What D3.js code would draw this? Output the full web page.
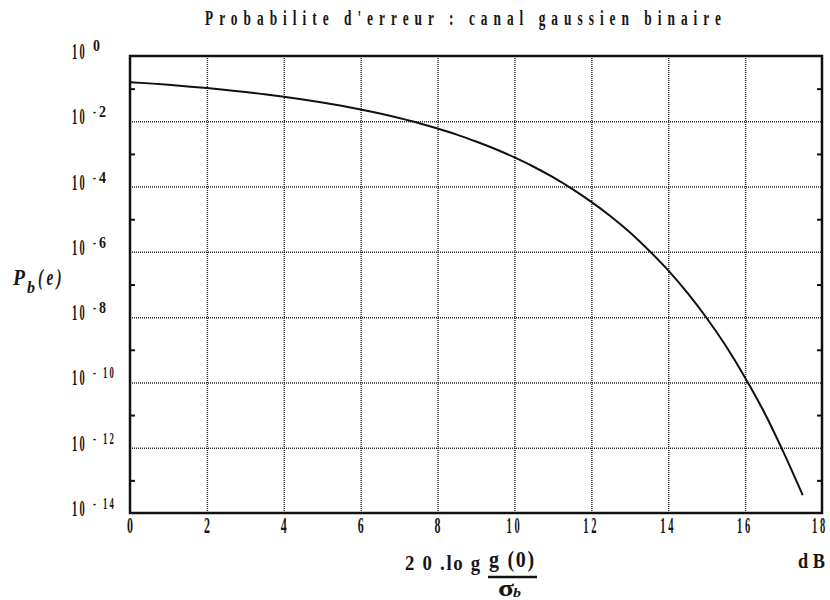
<!DOCTYPE html>
<html><head><meta charset="utf-8">
<script src="https://cdn.jsdelivr.net/npm/d3@7/dist/d3.min.js"></script>
<style>body{margin:0;background:#fff}svg{display:block}</style>
</head><body>
<svg id="chart" width="830" height="600"></svg>
<script>
// ---- data ----
const snrDb = [0,0.5,1,1.5,2,2.5,3,3.5,4,4.5,5,5.5,6,6.5,7,7.5,8,8.5,9,9.5,10,10.5,11,11.5,12,12.5,13,13.5,14,14.5,15,15.5,16,16.5,17,17.5];
const errorProb = [0.158,0.145,0.131,0.117,0.104,0.091,0.079,0.067,0.0565,0.0466,0.0377,0.0298,0.023,0.0173,0.0126,0.0089,0.0060,0.0039,0.0024,0.00142,7.8e-4,4.05e-4,1.94e-4,8.5e-5,3.4e-5,1.24e-5,4.0e-6,1.1e-6,2.7e-7,5.5e-8,9.4e-9,1.3e-9,1.4e-10,1.2e-11,7.2e-13,3.5e-14];
const xTicks = [0,2,4,6,8,10,12,14,16,18];
const yMajorExp = [0,-2,-4,-6,-8,-10,-12,-14];
const yMinorExp = [-1,-3,-5,-7,-9,-11,-13];
const titleText = "Probabilite d'erreur : canal gaussien binaire";

const svg = d3.select("#chart");
const L = 130, R = 822, T = 56, B = 513;
const x = d3.scaleLinear().domain([0, 18]).range([L, R]);
const y = d3.scaleLog().domain([1e-14, 1]).range([B, T]);
const FONT = "'Liberation Serif','Times New Roman',serif";

// text fitted to a target width by horizontal scaling
function fitText(str, px, baseline, width, size, opt = {}) {
  const g = svg.append("g");
  const t = g.append("text")
    .attr("x", 0).attr("y", 0)
    .attr("font-family", FONT)
    .attr("font-size", size)
    .attr("font-weight", opt.weight || "bold")
    .attr("font-style", opt.style || "normal")
    .attr("letter-spacing", opt.spacing || 0)
    .attr("fill", "#161616")
    .text(str);
  const w = t.node().getComputedTextLength();
  const sx = width / w;
  let left = px;
  if (opt.anchor === "middle") left = px - width / 2;
  else if (opt.anchor === "end") left = px - width;
  g.attr("transform", `translate(${left},${baseline}) scale(${sx},1)`);
  return g;
}

// grid (dotted) through axes
const gridX = svg.append("g").attr("transform", `translate(0,${B})`)
  .call(d3.axisBottom(x).tickValues(xTicks.slice(1, -1)).tickSize(-(B - T)).tickFormat(""));
gridX.select(".domain").remove();
gridX.selectAll("line").attr("stroke", "#2a2a2a").attr("stroke-width", 1.5).attr("stroke-dasharray", "1,1");

const gridY = svg.append("g").attr("transform", `translate(${L},0)`)
  .call(d3.axisLeft(y).tickValues(yMajorExp.slice(1, -1).map(e => Math.pow(10, e))).tickSize(-(R - L)).tickFormat(""));
gridY.select(".domain").remove();
gridY.selectAll("line").attr("stroke", "#2a2a2a").attr("stroke-width", 1.5).attr("stroke-dasharray", "1,1");

// minor ticks (inside, both sides)
const minorVals = yMinorExp.map(e => Math.pow(10, e));
const leftMinor = svg.append("g").attr("transform", `translate(${L},0)`)
  .call(d3.axisRight(y).tickValues(minorVals).tickSize(5).tickFormat(""));
leftMinor.select(".domain").remove();
const rightMinor = svg.append("g").attr("transform", `translate(${R},0)`)
  .call(d3.axisLeft(y).tickValues(minorVals).tickSize(5).tickFormat(""));
rightMinor.select(".domain").remove();
svg.selectAll(".tick line").filter(function(){ return !this.getAttribute("stroke-dasharray"); })
  .attr("stroke", "#111").attr("stroke-width", 2);

// frame
svg.append("rect").attr("x", L).attr("y", T).attr("width", R - L).attr("height", B - T)
  .attr("fill", "none").attr("stroke", "#111").attr("stroke-width", 2.5);

// curve
const line = d3.line().x((d, i) => x(snrDb[i])).y(d => y(d)).curve(d3.curveMonotoneX);
svg.append("path").datum(errorProb).attr("d", line)
  .attr("fill", "none").attr("stroke", "#111").attr("stroke-width", 2);

// x tick labels
xTicks.forEach(v => {
  const s = String(v);
  fitText(s, x(v) - (v === 18 ? 2 : 0), 533, s.length === 1 ? 6 : 16, 23, { anchor: "middle", spacing: s.length > 1 ? 6 : 0 });
});

// y tick labels: 10 with superscript exponent
yMajorExp.forEach(e => {
  const gy = y(Math.pow(10, e));
  fitText("10", 72, gy + 3, 15, 23, { spacing: 5 });
  if (e === 0) {
    fitText("0", 93, gy - 5, 7, 16);
  } else {
    const digits = String(-e);
    fitText("-", 93, gy - 4, 3, 16);
    fitText(digits, 99 + (digits.length > 1 ? 4 : 0), gy - 4, digits.length > 1 ? 13 : 7, 16, { spacing: digits.length > 1 ? 4 : 0 });
  }
});

// title
fitText(titleText, 466, 25, 522, 20, { anchor: "middle", spacing: 9 });

// y axis label P_b(e)
fitText("P", 13, 285, 12, 23, { style: "italic" });
fitText("b", 27, 293, 8, 16, { style: "italic" });
fitText("(e)", 38, 285, 27, 23, { style: "italic", spacing: 5 });

// x axis label
fitText("2 0 .lo g", 405, 570, 77, 22, { spacing: 2 });
fitText("g (0)", 489, 567, 47, 23, { spacing: 2 });
svg.append("line").attr("x1", 488).attr("x2", 537).attr("y1", 577).attr("y2", 577)
  .attr("stroke", "#111").attr("stroke-width", 2.5);
fitText("σ", 498, 596, 16, 24);
fitText("b", 513, 597, 8, 13, { style: "italic" });

// unit
fitText("d B", 798, 568, 27, 21);
</script>
</body></html>
